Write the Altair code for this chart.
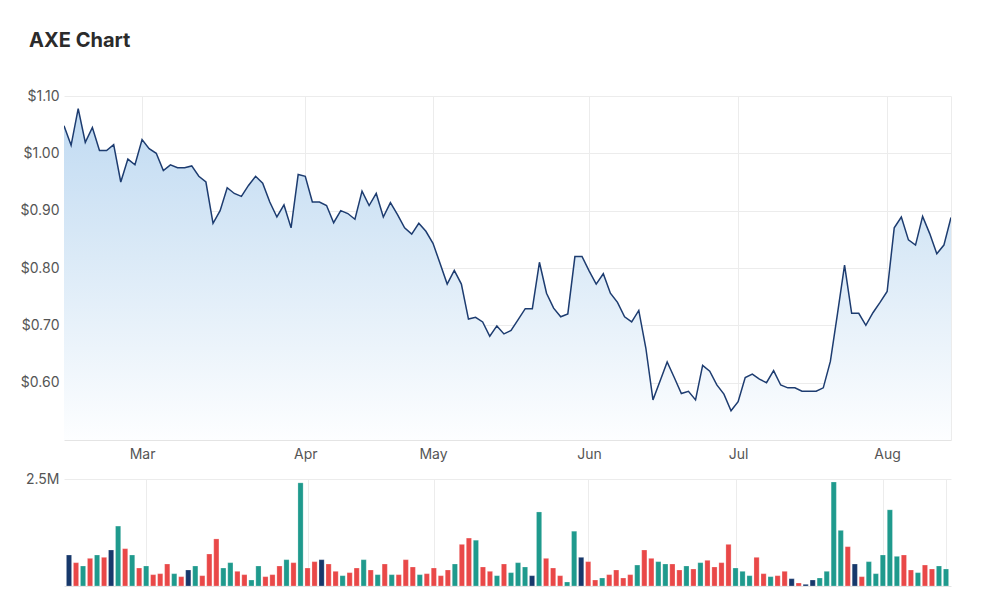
import altair as alt
import pandas as pd

chart_title = "AXE Chart"
holidays = ["2022-04-15", "2022-04-18", "2022-04-25", "2022-06-13"]
dates = pd.bdate_range("2022-02-14", "2022-08-12", freq="C", holidays=holidays)

price = [
    1.048, 1.014, 1.078, 1.019, 1.045, 1.005, 1.005, 1.015, 0.950, 0.990,
    0.980, 1.024, 1.008, 1.000, 0.970, 0.980, 0.975, 0.975, 0.978, 0.960,
    0.950, 0.878, 0.900, 0.940, 0.930, 0.925, 0.944, 0.960, 0.948, 0.915,
    0.889, 0.910, 0.870, 0.963, 0.960, 0.915, 0.915, 0.909, 0.879, 0.900,
    0.895, 0.885, 0.934, 0.909, 0.930, 0.889, 0.914, 0.893, 0.870, 0.859,
    0.878, 0.864, 0.843, 0.808, 0.772, 0.796, 0.772, 0.711, 0.714, 0.706,
    0.681, 0.699, 0.685, 0.691, 0.710, 0.729, 0.729, 0.810, 0.756, 0.730,
    0.715, 0.720, 0.820, 0.820, 0.795, 0.772, 0.790, 0.756, 0.740, 0.715,
    0.706, 0.726, 0.660, 0.570, 0.603, 0.636, 0.609, 0.581, 0.585, 0.570,
    0.630, 0.620, 0.596, 0.580, 0.551, 0.567, 0.609, 0.615, 0.606, 0.600,
    0.621, 0.596, 0.591, 0.591, 0.585, 0.585, 0.585, 0.591, 0.637, 0.720,
    0.805, 0.721, 0.721, 0.700, 0.722, 0.740, 0.759, 0.870, 0.889, 0.849,
    0.840, 0.890, 0.860, 0.825, 0.840, 0.888,
]

volume = [
    724000, 545000, 467000, 646000, 724000, 670000, 841000, 1400000, 872000, 724000,
    420000, 467000, 265000, 288000, 514000, 288000, 218000, 374000, 467000, 241000,
    748000, 1100000, 420000, 545000, 343000, 265000, 140000, 467000, 218000, 265000,
    467000, 615000, 545000, 2410000, 420000, 569000, 615000, 514000, 343000, 241000,
    312000, 420000, 615000, 374000, 265000, 514000, 265000, 265000, 615000, 444000,
    265000, 288000, 420000, 241000, 374000, 514000, 973000, 1120000, 1070000, 444000,
    343000, 241000, 514000, 312000, 545000, 444000, 241000, 1730000, 646000, 420000,
    241000, 93000, 1280000, 670000, 569000, 140000, 187000, 265000, 374000, 187000,
    265000, 490000, 841000, 646000, 569000, 514000, 514000, 374000, 467000, 397000,
    545000, 600000, 444000, 545000, 973000, 420000, 343000, 241000, 670000, 288000,
    218000, 241000, 343000, 171000, 70000, 39000, 140000, 187000, 343000, 2430000,
    1300000, 919000, 514000, 218000, 569000, 288000, 724000, 1780000, 693000, 724000,
    374000, 312000, 490000, 397000, 467000, 397000,
]

price_ticks = [0.6, 0.7, 0.8, 0.9, 1.0, 1.1]
price_domain = [0.5, 1.1]
vol_ticks = [2500000]

direction = ["flat"]
for k in range(1, len(price)):
    if price[k] > price[k - 1]:
        direction.append("up")
    elif price[k] < price[k - 1]:
        direction.append("down")
    else:
        direction.append("flat")

df = pd.DataFrame({
    "i": list(range(len(price))),
    "date": dates.strftime("%Y-%m-%d"),
    "price": price,
    "volume": volume,
    "dir": direction,
})

month_idx = [k for k in range(1, len(dates)) if dates[k].month != dates[k - 1].month]
month_lab = [dates[k].strftime("%b") for k in month_idx]
last = len(price) - 1
expr = "''"
for k, lab in zip(reversed(month_idx), reversed(month_lab)):
    expr = f"datum.value == {k} ? '{lab}' : ({expr})"

FONT = "Inter"
GRID = "#ececec"
xscale = alt.Scale(domain=[0, last], nice=False, zero=False)

x_price = alt.X("i:Q", scale=xscale, axis=alt.Axis(
    values=month_idx + [last], labelExpr=expr, title=None, ticks=False,
    grid=True, gridColor=GRID, domainColor="#e4e4e4", labelPadding=7,
    labelFontSize=14, labelColor="#555555", labelFont=FONT, labelFlush=False))

y_price = alt.Y("price:Q", scale=alt.Scale(domain=price_domain, zero=False, nice=False),
                axis=alt.Axis(values=price_ticks, format="$.2f", title=None, ticks=False,
                              domain=False, labelPadding=5, gridColor=GRID,
                              labelFontSize=14, labelColor="#555555", labelFont=FONT))

gradient = alt.Gradient(
    gradient="linear",
    stops=[alt.GradientStop(color="#c0daf2", offset=0),
           alt.GradientStop(color="#dbeaf7", offset=0.45),
           alt.GradientStop(color="#fdfeff", offset=1)],
    x1=1, x2=1, y1=0, y2=1,
)

area = alt.Chart(df).mark_area(color=gradient, clip=True).encode(
    x=x_price, y=y_price, y2=alt.datum(price_domain[0]))
line = alt.Chart(df).mark_line(color="#1d3c70", strokeWidth=1.5, clip=True).encode(x=x_price, y=y_price)
price_chart = (area + line).properties(width=887, height=344)

x_vol = alt.X("i:Q", scale=xscale, axis=alt.Axis(
    values=month_idx + [last], labels=False, title=None, ticks=False,
    grid=True, gridColor=GRID, domainColor="#e4e4e4"))

bars = alt.Chart(df).mark_bar(width=5.2, clip=True, stroke="white", strokeWidth=0.4, strokeOpacity=0.6).encode(
    x=x_vol,
    y=alt.Y("volume:Q", scale=alt.Scale(domain=[0, 2500000], nice=False),
            axis=alt.Axis(values=vol_ticks, format=".2s", title=None, ticks=False,
                          domain=False, labelPadding=5, gridColor=GRID,
                          labelFontSize=14, labelColor="#555555", labelFont=FONT)),
    color=alt.Color("dir:N", scale=alt.Scale(domain=["up", "down", "flat"],
                                             range=["#1f9a8d", "#e94848", "#17386b"]),
                    legend=None),
).properties(width=887, height=107)

chart = alt.vconcat(price_chart, bars, spacing=39, bounds="flush").properties(
    title=alt.TitleParams(chart_title, anchor="start", font=FONT, fontSize=20,
                          fontWeight="bold", color="#2b2b2b", offset=38, dx=9),
    padding={"left": 20, "top": 31, "right": 10, "bottom": 10},
).configure_view(stroke=None)

chart.save("out.html", embed_options={"renderer": "svg", "actions": False})
